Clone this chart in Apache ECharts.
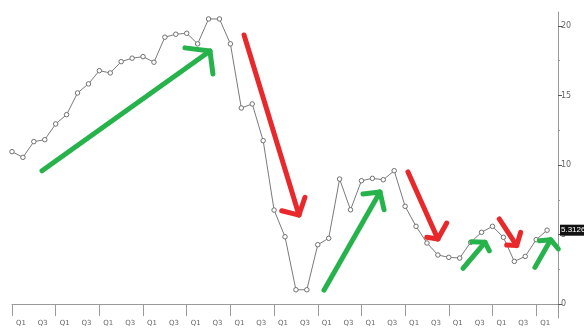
<!DOCTYPE html>
<html>
<head>
<meta charset="utf-8">
<script src="https://cdn.jsdelivr.net/npm/echarts@6/dist/echarts.min.js"></script>
<style>
html,body{margin:0;padding:0;background:#fff;}
#c{width:584px;height:329px;}
</style>
</head>
<body>
<div id="c"></div>
<script>
// quarter names used for the category axis
const quarterNames = ['Q1', 'Q2', 'Q3', 'Q4'];
// number of quarterly slots on the axis (the last one is empty)
const quarterCount = 51;
// series values (one per quarter)
const values = [
  10.96, 10.55, 11.68, 11.82, 12.95, 13.62, 15.18, 15.83,
  16.78, 16.62, 17.43, 17.68, 17.79, 17.39, 19.19, 19.40,
  19.47, 18.71, 20.50, 20.50, 18.71, 14.10, 14.39, 11.75,
  6.76, 4.84, 1.03, 1.03, 4.27, 4.73, 8.99, 6.78,
  8.87, 9.04, 8.94, 9.59, 7.03, 5.59, 4.39, 3.53,
  3.36, 3.31, 4.44, 5.16, 5.59, 4.80, 3.07, 3.43,
  4.63, 5.3126
];
// y tick labels
const yTicks = [0, 5, 10, 15, 20];
const yMinorTicks = [2.5, 7.5, 12.5, 17.5];
const lastValue = 5.3126;
const lastLabel = '5.3126';

// annotation arrows in data coordinates: [tail, tip, arm1, arm2] as [quarterIndex, value]
const greenArrows = [
  [[2.75, 9.59], [18.13, 18.2], [15.84, 18.42], [18.4, 16.55]],
  [[28.57, 1.0], [33.7, 8.06], [32.14, 7.91], [34.07, 6.78]],
  [[41.3, 2.57], [43.32, 4.44], [42.1, 4.48], [43.71, 3.83]],
  [[47.89, 2.64], [49.33, 4.63], [48.29, 4.55], [50.03, 3.96]]
];
const redArrows = [
  [[21.25, 19.35], [26.28, 6.4], [24.7, 6.71], [26.83, 7.68]],
  [[36.26, 9.5], [39.0, 4.68], [37.98, 4.8], [39.81, 5.83]],
  [[44.62, 6.12], [46.22, 4.21], [45.3, 4.24], [46.58, 5.16]]
];

const categories = [];
for (let i = 0; i < quarterCount; i++) categories.push(quarterNames[i % 4]);

const chart = echarts.init(document.getElementById('c'));
const axisColor = '#9a9a9a';
const textColor = '#666';

chart.setOption({
  animation: false,
  backgroundColor: '#fff',
  grid: { left: 12, right: 26, top: 12, bottom: 11, containLabel: false, outerBoundsMode: 'none' },
  xAxis: {
    type: 'category',
    data: categories,
    boundaryGap: false,
    axisLine: { show: true, lineStyle: { color: axisColor, width: 1 } },
    axisTick: { show: true, interval: 3, length: 12, lineStyle: { color: axisColor } },
    axisLabel: {
      interval: 1, fontSize: 7, color: textColor, align: 'left',
      margin: 2, padding: [0, 0, 0, 4], showMaxLabel: false,
      fontFamily: 'DejaVu Sans'
    },
    splitLine: { show: false }
  },
  yAxis: [
    {
      type: 'value', position: 'right', min: -1, max: 21,
      axisLine: { show: true, lineStyle: { color: axisColor } },
      axisTick: { show: true, length: 4, customValues: yTicks, lineStyle: { color: '#555' } },
      axisLabel: { customValues: yTicks, fontSize: 8, color: textColor, margin: 3, fontFamily: 'DejaVu Sans' },
      splitLine: { show: false }
    },
    {
      type: 'value', position: 'right', min: -1, max: 21,
      axisLine: { show: false },
      axisTick: { show: true, length: 2, customValues: yMinorTicks, lineStyle: { color: axisColor } },
      axisLabel: { show: false },
      splitLine: { show: false }
    },
    {
      type: 'value', position: 'right', min: -1, max: 21,
      axisLine: { show: false },
      axisTick: { show: false },
      axisLabel: {
        customValues: [lastValue], formatter: () => lastLabel,
        fontSize: 8, color: '#fff', backgroundColor: '#111',
        padding: [2, 1, 1, 1], margin: 2,
        fontFamily: 'Liberation Sans Narrow, Liberation Sans, sans-serif'
      },
      splitLine: { show: false }
    }
  ],
  series: [{
    type: 'line',
    data: values,
    yAxisIndex: 0,
    symbol: 'circle',
    symbolSize: 4.5,
    itemStyle: { color: '#fff', borderColor: '#707070', borderWidth: 1 },
    lineStyle: { color: '#7a7a7a', width: 1 },
    z: 3
  }]
});

// convert a fractional category index + value to pixels (interpolating between categories)
function toPx(p) {
  const i0 = Math.floor(p[0]);
  const f = p[0] - i0;
  const a = chart.convertToPixel({ gridIndex: 0 }, [i0, p[1]]);
  const b = chart.convertToPixel({ gridIndex: 0 }, [i0 + 1, p[1]]);
  return [a[0] + (b[0] - a[0]) * f, a[1]];
}
function arrowGraphics(list, color) {
  const out = [];
  list.forEach(a => {
    const tail = toPx(a[0]), tip = toPx(a[1]), arm1 = toPx(a[2]), arm2 = toPx(a[3]);
    const style = { stroke: color, lineWidth: 5, lineCap: 'round', lineJoin: 'round', fill: null };
    out.push({ type: 'polyline', shape: { points: [tail, tip] }, style: style, z: 10 });
    out.push({ type: 'polyline', shape: { points: [arm1, tip, arm2] }, style: style, z: 10 });
  });
  return out;
}
chart.setOption({
  graphic: arrowGraphics(greenArrows, '#27b34b').concat(arrowGraphics(redArrows, '#e8282b'))
});
</script>
</body>
</html>
